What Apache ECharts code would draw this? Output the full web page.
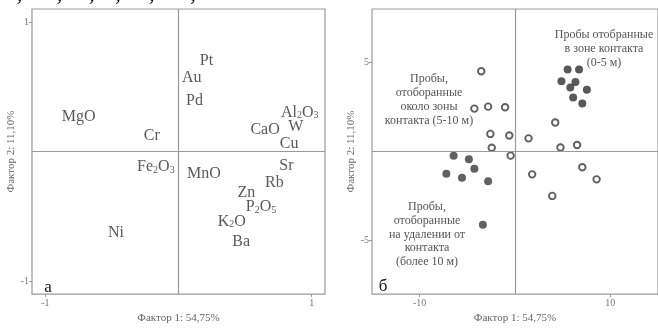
<!DOCTYPE html>
<html>
<head>
<meta charset="utf-8">
<script src="https://cdn.jsdelivr.net/npm/echarts@6/dist/echarts.min.js"></script>
<style>
html,body{margin:0;padding:0;background:#fff;}
#chart{width:658px;height:329px;}
</style>
</head>
<body>
<div id="chart"></div>
<script>
// панель а - нагрузки факторов
var loadNames = ['Pt','Au','Pd','MgO','Cr','Al2O3','CaO','W','Cu','Fe2O3','MnO','Sr','Rb','Zn','P2O5','K2O','Ba','Ni'];
var loadX = [0.21, 0.10, 0.12, -0.75, -0.20, 0.91, 0.65, 0.88, 0.83, -0.17, 0.19, 0.81, 0.72, 0.51, 0.62, 0.40, 0.47, -0.47];
var loadY = [0.70, 0.57, 0.39, 0.27, 0.12, 0.30, 0.17, 0.19, 0.06, -0.12, -0.17, -0.11, -0.24, -0.32, -0.43, -0.54, -0.70, -0.63];

// панель б - значения факторов по пробам
var contactX = [5.52, 6.72, 4.87, 6.34, 5.80, 7.54, 6.10, 7.06];//0-5 м
var contactY = [4.60, 4.60, 3.95, 3.91, 3.60, 3.47, 3.03, 2.69];
var farX = [-6.44, -4.84, -4.26, -7.20, -5.56, -2.82, -3.37];//более 10 м
var farY = [-0.23, -0.43, -0.96, -1.25, -1.47, -1.67, -4.11];
var nearX = [-3.54, -4.26, -2.82, -1.04, -2.58, -0.60, 1.42, 4.22, -2.44, 4.77, 6.51, -0.46, 1.80, 7.06, 8.56, 3.91];//5-10 м
var nearY = [4.51, 2.41, 2.52, 2.49, 0.99, 0.90, 0.74, 1.63, 0.21, 0.23, 0.37, -0.23, -1.28, -0.88, -1.56, -2.49];

var ticksA = [-1, 1];
var ticksBx = [-10, 10];
var ticksBy = [-5, 5];

var serif = 'Liberation Serif';
var gray = '#999';

function pairs(xs, ys)
{
	var res = [];
	for (var i = 0; i < xs.length; i++) res.push([xs[i], ys[i]]);
	return res;
}
function subText(name)
{//цифры в формулах - нижним индексом
	return name.replace(/(\d)/g, '{s|$1}').replace(/([^{}|s\d]+)(?![^{]*\})/g, '{b|$1}');
}

function xAx(grid, min, max, ticks)
{
	return {
		type: 'value', gridIndex: grid, min: min, max: max,
		axisLine: {show: false, onZero: false},
		axisTick: {show: true, customValues: ticks, length: 3, lineStyle: {color: gray}},
		axisLabel: {customValues: ticks, fontSize: 10, color: '#777', fontFamily: serif, margin: 4},
		splitLine: {show: false},
		name: 'Фактор 1: 54,75%', nameLocation: 'middle', nameGap: 17,
		nameTextStyle: {fontSize: 11, color: '#666', fontFamily: serif}
	};
}
function yAx(grid, min, max, ticks, gap)
{
	return {
		type: 'value', gridIndex: grid, min: min, max: max,
		axisLine: {show: false, onZero: false},
		axisTick: {show: true, customValues: ticks, length: 3, lineStyle: {color: gray}},
		axisLabel: {customValues: ticks, fontSize: 10, color: '#777', fontFamily: serif, margin: 3},
		splitLine: {show: false},
		name: 'Фактор 2: 11,10%', nameLocation: 'middle', nameGap: gap,
		nameTextStyle: {fontSize: 11, color: '#666', fontFamily: serif}
	};
}
function zeroLines()
{
	return {
		silent: true, symbol: 'none', label: {show: false},
		lineStyle: {color: gray, width: 1.2, type: 'solid'},
		data: [{xAxis: 0}, {yAxis: 0}]
	};
}

var labelData = [];
for (var i = 0; i < loadNames.length; i++)
{
	labelData.push({name: loadNames[i], value: [loadX[i], loadY[i]]});
}

var chart = echarts.init(document.getElementById('chart'));
var option = {
	animation: false,
	backgroundColor: '#fff',
	grid: [
		{left: 32, top: 9, width: 293, height: 294, show: true, borderColor: gray, borderWidth: 1.2, backgroundColor: 'transparent'},
		{left: 372, top: 9, width: 293, height: 294, show: true, borderColor: gray, borderWidth: 1.2, backgroundColor: 'transparent'}
	],
	xAxis: [xAx(0, -1.1, 1.1, ticksA), xAx(1, -15, 15, ticksBx)],
	yAxis: [yAx(0, -1.1, 1.1, ticksA, 12), yAx(1, -8, 8, ticksBy, 15)],
	series: [
		{
			type: 'scatter', xAxisIndex: 0, yAxisIndex: 0,
			symbolSize: 1, itemStyle: {color: 'rgba(0,0,0,0)'},
			data: labelData,
			label: {
				show: true, position: 'inside',
				formatter: function (p) { return subText(p.name); },
				rich: {
					b: {fontSize: 16, fontFamily: serif, color: '#2e2e2e'},
					s: {fontSize: 10, fontFamily: serif, color: '#2e2e2e', verticalAlign: 'bottom', padding: [6, 0, 0, 0]}
				}
			},
			markLine: zeroLines()
		},
		{
			name: 'контакт', type: 'scatter', xAxisIndex: 1, yAxisIndex: 1,
			symbolSize: 8, itemStyle: {color: '#303030'},
			data: pairs(contactX, contactY),
			markLine: zeroLines()
		},
		{
			name: 'удаление', type: 'scatter', xAxisIndex: 1, yAxisIndex: 1,
			symbolSize: 8, itemStyle: {color: '#3a3a3a'},
			data: pairs(farX, farY)
		},
		{
			name: 'около', type: 'scatter', xAxisIndex: 1, yAxisIndex: 1,
			symbolSize: 6.5, itemStyle: {color: '#fff', borderColor: '#383838', borderWidth: 1.9},
			data: pairs(nearX, nearY)
		}
	],
	graphic: [
		{type: 'text', left: -4, top: -18, style: {text: 'W, Rb, Sr, Y, Zr, Nb, Ni и Pb со.', font: '24px "Liberation Serif"', fill: '#111'}},
		{type: 'text', x: 48, y: 288, style: {text: 'а', font: '17px "Liberation Serif"', fill: '#111', align: 'center', verticalAlign: 'middle'}},
		{type: 'text', x: 383, y: 287, style: {text: 'б', font: '17px "Liberation Serif"', fill: '#111', align: 'center', verticalAlign: 'middle'}},
		{type: 'text', x: 604, y: 28, style: {text: 'Пробы отобранные\nв зоне контакта\n(0-5 м)', font: '12px "Liberation Serif"', lineHeight: 14, fill: '#555', align: 'center', verticalAlign: 'top'}},
		{type: 'text', x: 429, y: 72, style: {text: 'Пробы,\nотоборанные\nоколо зоны\nконтакта (5-10 м)', font: '12px "Liberation Serif"', lineHeight: 14, fill: '#555', align: 'center', verticalAlign: 'top'}},
		{type: 'text', x: 427, y: 200, style: {text: 'Пробы,\nотоборанные\nна удалении от\nконтакта\n(более 10 м)', font: '12px "Liberation Serif"', lineHeight: 13.8, fill: '#555', align: 'center', verticalAlign: 'top'}}
	]
};
chart.setOption(option);
</script>
</body>
</html>
